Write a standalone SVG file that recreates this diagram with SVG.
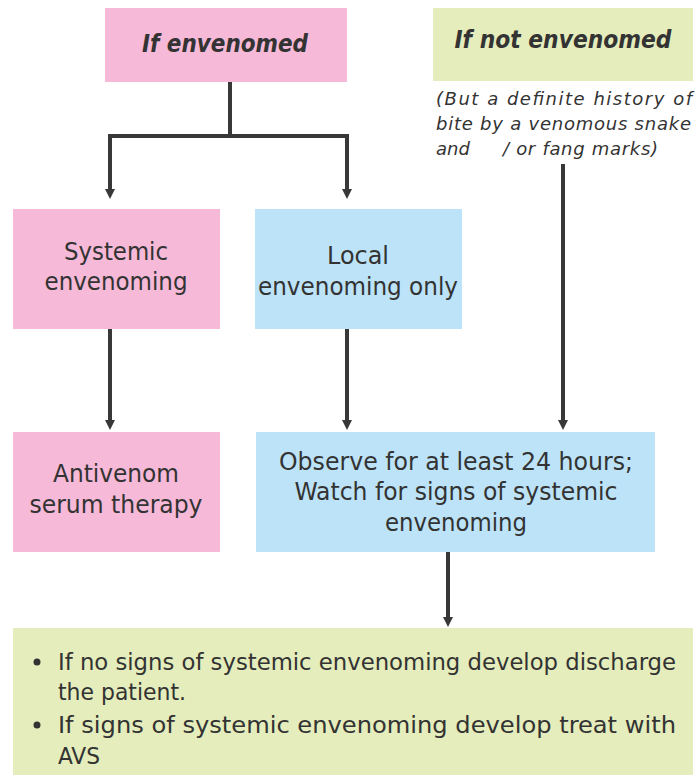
<svg xmlns="http://www.w3.org/2000/svg" width="698" height="776" viewBox="0 0 698 776">
<style>
  .pink{fill:#F6B9D7}
  .blue{fill:#BDE3F8}
  .green{fill:#E4EDBB}
  text{font-family:"DejaVu Sans","Liberation Sans",sans-serif;fill:#333333}
  .t{font-size:24px;text-anchor:middle}
  .n{font-family:"DejaVu Sans Condensed","DejaVu Sans","Liberation Sans",sans-serif}
  .h{font-size:25px;font-style:italic;font-weight:bold;text-anchor:middle}
  .s{font-size:18px;font-style:italic}
  .b{font-size:23px}
  .c{fill:none;stroke:#383838;stroke-width:4}
</style>
<defs>
  <marker id="ah" markerUnits="userSpaceOnUse" markerWidth="12" markerHeight="12" refX="2" refY="5" orient="auto">
    <path d="M0,0 L10,5 L0,10 z" fill="#383838"/>
  </marker>
</defs>
<rect width="698" height="776" fill="#ffffff"/>
<g id="connectors">
  <path class="c" d="M230,82 V136 M108,136 H349"/>
  <path class="c" d="M110,134 V191" marker-end="url(#ah)"/>
  <path class="c" d="M347,134 V191" marker-end="url(#ah)"/>
  <path class="c" d="M110,329 V422" marker-end="url(#ah)"/>
  <path class="c" d="M347,329 V422" marker-end="url(#ah)"/>
  <path class="c" d="M563,164 V422" marker-end="url(#ah)"/>
  <path class="c" d="M448,552 V619" marker-end="url(#ah)"/>
</g>
<g id="if-envenomed">
  <rect class="pink" x="105" y="8" width="242" height="74"/>
  <text class="h n" x="225" y="52" textLength="166" lengthAdjust="spacingAndGlyphs">If envenomed</text>
</g>
<g id="if-not-envenomed">
  <rect class="green" x="433" y="8" width="260" height="73"/>
  <text class="h n" x="563" y="48" textLength="217" lengthAdjust="spacingAndGlyphs">If not envenomed</text>
  <text class="s" x="436" y="105" textLength="256" lengthAdjust="spacing">(But a definite history of</text>
  <text class="s" x="436" y="130" textLength="255" lengthAdjust="spacing">bite by a venomous snake</text>
  <text class="s" x="436" y="155">and</text>
  <text class="s" x="503" y="155" textLength="155" lengthAdjust="spacing">/ or fang marks)</text>
</g>
<g id="systemic">
  <rect class="pink" x="13" y="209" width="207" height="120"/>
  <text class="t" x="116" y="260" textLength="104" lengthAdjust="spacingAndGlyphs">Systemic</text>
  <text class="t" x="116" y="290" textLength="143" lengthAdjust="spacingAndGlyphs">envenoming</text>
</g>
<g id="local">
  <rect class="blue" x="255" y="209" width="207" height="120"/>
  <text class="t" x="358" y="264" textLength="62" lengthAdjust="spacingAndGlyphs">Local</text>
  <text class="t" x="358" y="295" textLength="200" lengthAdjust="spacingAndGlyphs">envenoming only</text>
</g>
<g id="antivenom">
  <rect class="pink" x="13" y="432" width="207" height="120"/>
  <text class="t n" x="116" y="482" textLength="126" lengthAdjust="spacingAndGlyphs">Antivenom</text>
  <text class="t n" x="116" y="513" textLength="173" lengthAdjust="spacingAndGlyphs">serum therapy</text>
</g>
<g id="observe">
  <rect class="blue" x="256" y="432" width="399" height="120"/>
  <text class="t n" x="456" y="470" textLength="354" lengthAdjust="spacingAndGlyphs">Observe for at least 24 hours;</text>
  <text class="t n" x="456" y="500" textLength="323" lengthAdjust="spacingAndGlyphs">Watch for signs of systemic</text>
  <text class="t n" x="456" y="531" textLength="142" lengthAdjust="spacingAndGlyphs">envenoming</text>
</g>
<g id="outcome">
  <rect class="green" x="13" y="628" width="680" height="147"/>
  <circle cx="37" cy="662" r="3.5" fill="#333333"/>
  <text class="b n" x="58" y="670" textLength="618" lengthAdjust="spacingAndGlyphs">If no signs of systemic envenoming develop discharge</text>
  <text class="b n" x="58" y="700" textLength="128" lengthAdjust="spacingAndGlyphs">the patient.</text>
  <circle cx="37" cy="725" r="3.5" fill="#333333"/>
  <text class="b n" x="58" y="733" textLength="618" lengthAdjust="spacingAndGlyphs">If signs of systemic envenoming develop treat with</text>
  <text class="b n" x="58" y="764" textLength="42" lengthAdjust="spacingAndGlyphs">AVS</text>
</g>
</svg>
